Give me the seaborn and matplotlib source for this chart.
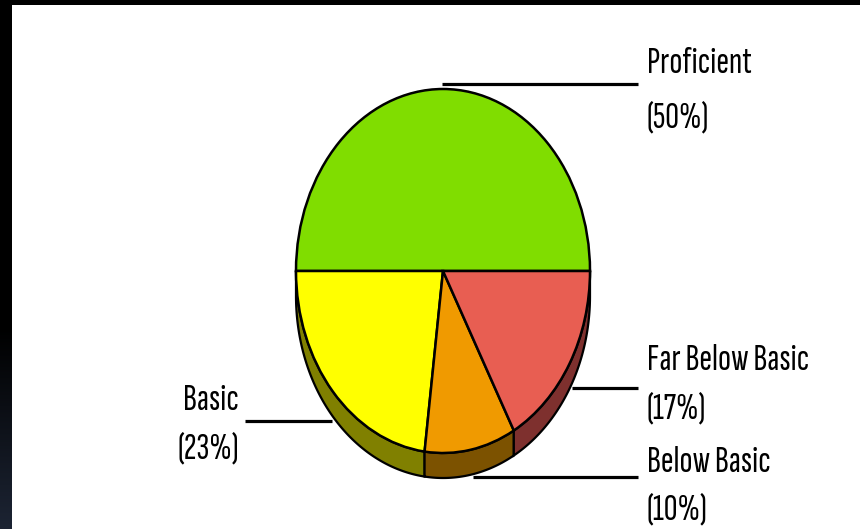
import numpy as np
import matplotlib
matplotlib.use("Agg")
import matplotlib.pyplot as plt
import seaborn as sns
from matplotlib.patches import Rectangle

# Score distribution
categories = ["Proficient", "Basic", "Below Basic", "Far Below Basic"]
values = [50, 23, 10, 17]
face_colors = ["#80DD00", "#FFFF00", "#F09A00", "#E85E52"]
side_colors = ["#407000", "#808000", "#7C5200", "#7E302E"]

sns.set_theme(style="white")
plt.rcParams["font.family"] = ["Sofia Sans Extra Condensed", "Pathway Gothic One",
                               "Roboto Condensed", "DejaVu Sans"]

W, H = 860, 529
fig = plt.figure(figsize=(W / 100, H / 100), dpi=100, facecolor="black")

# white panel
fig.patches.append(Rectangle((12 / W, 0), 1 - 12 / W, 1 - 5 / H,
                             transform=fig.transFigure, facecolor="white",
                             edgecolor="none", zorder=-5))

# dark strip on the left with a faint navy fade at the bottom
gax = fig.add_axes([0, 0, 12 / W, 1])
t = np.linspace(0, 1, 256)
fade = np.clip((t - 0.62) / 0.38, 0, 1)[:, None]
grad = np.concatenate([fade * 0.11, fade * 0.14, fade * 0.20], axis=1)
gax.imshow(grad[:, None, :], aspect="auto", extent=(0, 1, 0, 1), origin="upper")
gax.set_axis_off()

# pie axes: unit radius maps to a 147 x 182 px ellipse centred at (443, 271)
cx, cy, rx, ry = 443, 271, 147, 182
ax = fig.add_axes([0, 0, 1, 1])
ax.set_facecolor("none")
face_pal = sns.color_palette(face_colors)
side_pal = sns.color_palette(side_colors)

depth = 25 / ry
fracs = np.array(values, dtype=float) / sum(values)
edges = np.concatenate([[0], np.cumsum(fracs)]) * 360.0

# side walls of the lower half
for k in range(len(values)):
    a0, a1 = max(edges[k], 180.0), min(edges[k + 1], 360.0)
    if a1 <= a0:
        continue
    th = np.radians(np.linspace(a0, a1, 120))
    xs = np.concatenate([np.cos(th), np.cos(th[::-1])])
    ys = np.concatenate([np.sin(th), np.sin(th[::-1]) - depth])
    ax.fill(xs, ys, facecolor=side_pal[k], edgecolor="black",
            linewidth=1.6, zorder=1)

wedges, _ = ax.pie(values, colors=face_pal, startangle=0, counterclock=True,
                   radius=1.0, wedgeprops=dict(edgecolor="black", linewidth=1.8),
                   normalize=True)
for w in wedges:
    w.set_zorder(2)

ax.set_aspect("auto")
ax.set_xlim((0 - cx) / rx, (W - cx) / rx)
ax.set_ylim((cy - H) / ry, cy / ry)
ax.set_axis_off()

# overlay in pixel coordinates for leader lines and labels
ov = fig.add_axes([0, 0, 1, 1])
ov.set_facecolor("none")
ov.set_xlim(0, W)
ov.set_ylim(H, 0)
ov.set_axis_off()

leaders = {
    "Proficient": ((442, 638), 84),
    "Far Below Basic": ((572, 638), 388),
    "Below Basic": ((473, 638), 477),
    "Basic": ((245, 332), 421),
}
for name, (xr, y) in leaders.items():
    ov.plot(xr, [y, y], color="black", linewidth=2.3, solid_capstyle="butt")

label_pos = {
    "Proficient": (647, 73, 127, "left"),
    "Far Below Basic": (647, 370, 418, "left"),
    "Below Basic": (647, 472, 519, "left"),
    "Basic": (239, 410, 458, "right"),
}
fs = 27.5
for name, v in zip(categories, values):
    x, y1, y2, ha = label_pos[name]
    ov.text(x, y1, name, fontsize=fs, ha=ha, va="baseline", color="black")
    ov.text(x, y2, f"({v}%)", fontsize=fs, ha=ha, va="baseline", color="black")

fig.savefig("out.png", dpi=100, facecolor=fig.get_facecolor())
